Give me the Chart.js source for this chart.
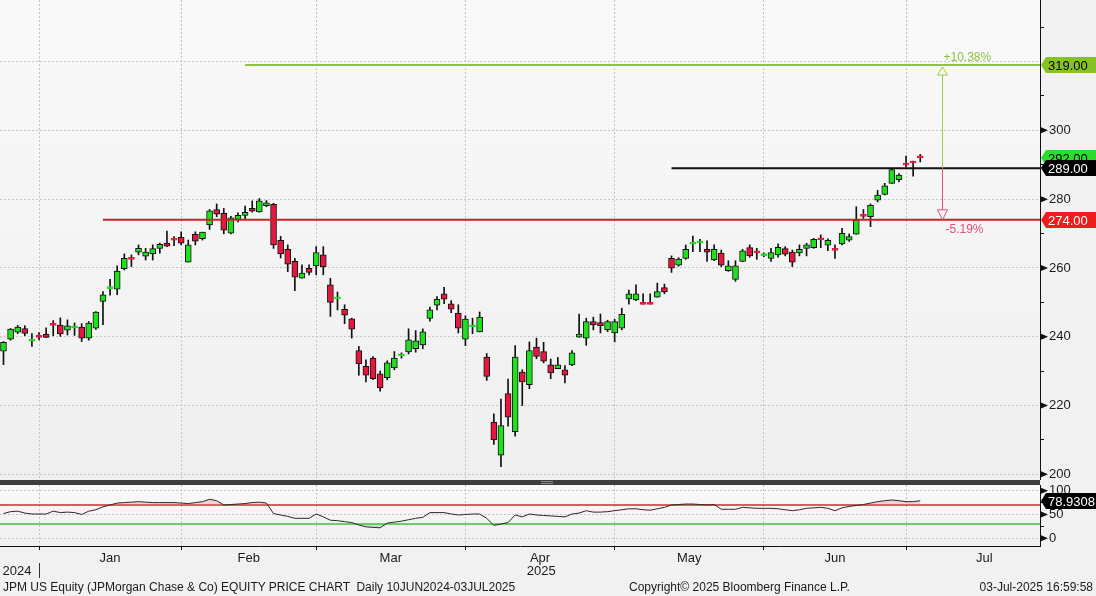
<!DOCTYPE html>
<html>
<head>
<meta charset="utf-8">
<title>JPM US Equity - Price Chart</title>
<script src="https://cdn.jsdelivr.net/npm/chart.js@4.4.1/dist/chart.umd.min.js"></script>
<style>
  html, body { margin: 0; padding: 0; }
  body { width: 1096px; height: 596px; position: relative; overflow: hidden; background: #f1f1f1;
         font-family: "Liberation Sans", Arial, sans-serif; }
  #priceCanvas { position: absolute; left: 0; top: 0; }
  #rsiCanvas { position: absolute; left: 0; top: 485px; }
  #divider { position: absolute; left: 0; top: 480px; width: 1040px; height: 5px; background: #3d3d3d; }
  #grip { position: absolute; left: 541px; top: 481px; width: 12px; height: 1px;
          border-top: 1px solid #8a8a8a; border-bottom: 1px solid #8a8a8a; }
  .foot { position: absolute; top: 580px; font-size: 12px; line-height: 14px; color: #1a1a1a; white-space: pre; }
</style>
</head>
<body>
<canvas id="priceCanvas" width="1096" height="480"></canvas>
<div id="divider"></div><div id="grip"></div>
<canvas id="rsiCanvas" width="1096" height="96"></canvas>
<div class="foot" style="left:3px">JPM US Equity (JPMorgan Chase &amp; Co) EQUITY PRICE CHART  Daily 10JUN2024-03JUL2025</div>
<div class="foot" style="left:629px">Copyright© 2025 Bloomberg Finance L.P.</div>
<div class="foot" style="right:3px">03-Jul-2025 16:59:58</div>
<script>
// visible window of the daily chart: 23 Dec 2024 .. 02 Jul 2025
const dates = [
  '2024-12-23','2024-12-24','2024-12-26','2024-12-27','2024-12-30','2024-12-31',
  '2025-01-02','2025-01-03','2025-01-06','2025-01-07','2025-01-08','2025-01-10','2025-01-13','2025-01-14','2025-01-15','2025-01-16',
  '2025-01-17','2025-01-21','2025-01-22','2025-01-23','2025-01-24','2025-01-27','2025-01-28','2025-01-29','2025-01-30','2025-01-31',
  '2025-02-03','2025-02-04','2025-02-05','2025-02-06','2025-02-07','2025-02-10','2025-02-11','2025-02-12','2025-02-13','2025-02-14',
  '2025-02-18','2025-02-19','2025-02-20','2025-02-21','2025-02-24','2025-02-25','2025-02-26','2025-02-27','2025-02-28',
  '2025-03-03','2025-03-04','2025-03-05','2025-03-06','2025-03-07','2025-03-10','2025-03-11','2025-03-12','2025-03-13','2025-03-14',
  '2025-03-17','2025-03-18','2025-03-19','2025-03-20','2025-03-21','2025-03-24','2025-03-25','2025-03-26','2025-03-27','2025-03-28','2025-03-31',
  '2025-04-01','2025-04-02','2025-04-03','2025-04-04','2025-04-07','2025-04-08','2025-04-09','2025-04-10','2025-04-11','2025-04-14',
  '2025-04-15','2025-04-16','2025-04-17','2025-04-21','2025-04-22','2025-04-23','2025-04-24','2025-04-25','2025-04-28','2025-04-29','2025-04-30',
  '2025-05-01','2025-05-02','2025-05-05','2025-05-06','2025-05-07','2025-05-08','2025-05-09','2025-05-12','2025-05-13','2025-05-14',
  '2025-05-15','2025-05-16','2025-05-19','2025-05-20','2025-05-21','2025-05-22','2025-05-23','2025-05-27','2025-05-28','2025-05-29','2025-05-30',
  '2025-06-02','2025-06-03','2025-06-04','2025-06-05','2025-06-06','2025-06-09','2025-06-10','2025-06-11','2025-06-12','2025-06-13',
  '2025-06-16','2025-06-17','2025-06-18','2025-06-20','2025-06-23','2025-06-24','2025-06-25','2025-06-26','2025-06-27','2025-06-30',
  '2025-07-01','2025-07-02'
];

const openPx = [
  235.8,239.3,241.3,242.4,238.7,240.0,240.8,243.5,243.4,241.9,
  242.6,242.8,239.6,242.5,250.3,254.0,253.8,259.8,262.7,264.6,
  263.4,264.1,265.7,267.2,268.3,268.9,261.7,269.8,268.5,272.5,
  277.0,275.9,270.1,274.1,275.3,277.3,276.3,278.1,278.5,268.0,
  265.4,261.9,257.0,259.9,260.6,263.8,255.1,251.0,248.0,245.2,
  236.0,231.4,233.8,229.2,228.1,230.9,234.4,235.6,236.5,237.6,
  245.3,249.2,252.5,249.6,246.9,239.3,242.9,241.4,234.1,215.2,
  205.6,223.5,212.4,229.7,226.1,237.0,235.7,231.8,230.7,230.4,
  231.8,239.9,239.6,244.4,244.1,242.0,241.1,242.5,251.0,250.7,
  249.6,249.6,251.5,254.3,262.8,260.8,262.8,266.9,267.3,265.4,
  262.3,264.3,259.2,256.7,261.9,265.9,264.6,263.6,262.8,263.8,
  265.6,264.6,264.4,265.7,265.9,268.4,266.6,265.3,267.0,268.1,
  269.8,275.2,274.9,279.7,281.4,284.6,285.7,290.1,290.7,292.2
];
const highPx = [
  238.6,242.4,243.3,243.2,240.9,241.2,242.6,244.7,245.5,244.9,
  244.0,243.8,244.4,247.3,253.1,256.7,260.6,264.1,263.8,266.7,
  265.7,266.7,267.2,270.7,269.1,270.5,268.1,270.5,270.4,277.0,
  278.6,277.3,275.0,276.0,278.0,279.5,280.2,279.6,278.8,269.2,
  266.7,262.8,260.9,260.9,266.2,266.2,257.0,253.0,249.3,245.4,
  237.2,233.3,234.2,230.0,233.0,235.7,235.3,242.3,241.8,242.3,
  248.6,251.7,254.4,250.5,249.3,246.1,245.4,247.2,235.1,217.6,
  221.9,227.7,237.4,230.4,238.5,239.6,238.4,233.5,234.0,231.6,
  236.0,246.6,245.4,245.7,246.6,244.8,245.1,248.3,253.6,255.1,
  252.5,252.5,255.6,255.3,263.5,263.0,266.7,269.3,268.3,267.9,
  266.7,265.2,262.1,262.1,265.4,266.7,265.7,264.4,265.7,267.0,
  266.2,265.2,266.7,267.2,268.6,269.6,268.5,266.7,271.5,269.9,
  277.8,277.0,278.6,282.6,284.6,288.9,287.4,292.5,291.1,293.0
];
const lowPx = [
  231.9,239.0,240.9,240.3,237.2,239.1,239.7,240.3,240.1,240.5,
  240.4,238.6,239.0,242.1,243.5,252.1,252.2,259.4,260.4,263.8,
  262.3,262.3,264.3,266.2,266.5,266.7,261.7,266.7,268.1,271.2,
  274.9,269.9,269.9,273.4,274.2,276.2,276.2,277.8,265.7,262.9,
  258.9,253.4,257.0,258.0,258.0,258.0,245.9,247.8,243.8,239.6,
  228.8,226.9,227.5,224.2,227.5,230.4,233.8,235.0,235.5,236.5,
  244.5,247.8,249.6,247.0,241.1,237.4,240.9,241.4,227.3,208.7,
  202.2,214.0,211.1,220.0,224.9,233.6,232.4,227.8,230.7,226.6,
  231.6,239.8,237.5,242.0,241.1,241.5,238.5,242.0,249.5,250.5,
  249.5,249.5,251.5,252.5,258.7,260.5,262.5,264.7,264.7,261.9,
  262.1,260.4,259.0,256.1,261.8,263.1,262.5,263.3,261.9,263.1,
  263.5,260.4,263.5,263.5,265.7,265.9,265.0,262.8,266.7,267.7,
  269.8,274.4,272.0,279.2,281.2,284.6,285.0,289.4,286.7,290.8
];
const closePx = [
  238.4,242.2,242.8,241.0,238.9,239.8,239.8,243.3,240.8,243.2,
  242.8,239.6,244.0,247.2,252.2,254.2,259.1,262.8,262.5,265.7,
  264.6,265.6,266.9,266.3,268.1,267.2,266.7,267.8,270.4,276.6,
  275.6,271.0,274.6,275.3,276.2,276.5,279.5,278.9,266.7,264.1,
  261.1,257.3,258.5,258.7,264.5,260.4,250.0,251.2,246.3,242.2,
  232.2,228.8,227.8,225.1,232.4,233.8,234.6,239.1,238.8,241.4,
  247.8,250.9,250.9,248.0,242.5,245.1,243.1,245.7,228.5,210.0,
  214.2,216.6,234.1,226.9,236.0,234.3,232.9,229.5,231.8,228.8,
  235.3,240.8,244.4,243.4,243.2,244.4,244.4,246.5,252.5,252.5,
  249.4,249.4,253.1,253.0,259.9,262.6,265.4,267.1,267.5,264.6,
  265.4,260.8,260.6,260.6,265.0,263.5,264.4,263.8,264.5,266.0,
  264.0,261.7,265.4,266.7,268.3,268.2,268.0,265.1,270.1,269.1,
  273.9,275.0,278.2,281.2,283.9,288.6,287.0,289.9,290.5,292.0
];

// RSI(14)
const rsi14 = [
  52,56,57,53,51,51,51,57,54,55,
  54,50,57,60,66,70,74,75,76,77,
  76,75,75,75,75,74,73,75,77,82,
  79,70,71,72,73,75,76,74,52,49,
  46,42,42,42,51,45,38,37,35,33,
  28,24,23,22,32,34,36,39,42,44,
  54,54,54,51,49,50,51,51,42,27,
  30,33,49,45,51,49,48,47,46,45,
  51,53,58,55,55,56,58,60,62,62,
  60,59,62,65,70,71,72,72,71,70,
  71,61,61,61,65,64,63,63,63,62,
  60,58,60,63,64,65,63,58,64,67,
  69,71,74,77,79,80.5,79,77,77,78.9308
];

const monthNames = ['Jan', 'Feb', 'Mar', 'Apr', 'May', 'Jun', 'Jul'];
const priceTicks = [200, 210, 220, 230, 240, 250, 260, 270, 280, 290, 300, 310, 320, 330];
const priceLabels = [200, 220, 240, 260, 280, 300];
const rsiTicks = [0, 25, 50, 75, 100];
const rsiLabels = [0, 50, 100];

// drawn levels (price) and the day each line starts on
const upTarget = 319, pivotLevel = 289, supportLevel = 274;
const upTargetFrom = '2025-02-13', pivotFrom = '2025-05-12', supportFrom = '2025-01-15';
const rsiOverbought = 70, rsiOversold = 30;

// x axis runs in trading-day slots; the terminal leaves ~16 empty slots on the right
const X_MIN = -0.49, X_MAX = 145.85;
const ARROW_SLOT = 132;

const GREEN = '#1fdf1f', RED = '#e5173f';
const FONT = '"Liberation Sans", Arial, sans-serif';

Chart.defaults.font.family = FONT;
Chart.defaults.font.size = 13;
Chart.defaults.color = '#1a1a1a';
Chart.defaults.animation = false;

const monthEnds = [];
for (let i = 0; i < dates.length - 1; i++) {
  if (dates[i].slice(0, 7) !== dates[i + 1].slice(0, 7)) monthEnds.push(i);
}
// label sits mid-month; the last (running) month gets half a typical month
const monthMids = monthEnds.map((e, k) => k + 1 < monthEnds.length ? (e + monthEnds[k + 1]) / 2 : e + 11);
const labelAt = new Map(monthMids.map((v, k) => [v, monthNames[k]]));
const bottomTicks = [...monthEnds, ...monthMids].sort((a, b) => a - b);
const isMonthEnd = (c) => c.tick && monthEnds.includes(c.tick.value);

const isDoji = (i) => Math.abs(closePx[i] - openPx[i]) < 0.5;
const bodyFill = dates.map((d, i) => closePx[i] >= openPx[i] ? GREEN : RED);
const bodyEdge = dates.map((d, i) => isDoji(i) ? bodyFill[i] : '#111');

const lastClose = closePx[closePx.length - 1];
const lastRsi = rsi14[rsi14.length - 1];

// ---- plugins ----
const plotBackground = {
  id: 'plotBackground',
  beforeDraw(chart) {
    const { ctx, chartArea: a } = chart;
    const g = ctx.createLinearGradient(0, a.top, 0, a.bottom);
    g.addColorStop(0, '#f9f9f9');
    g.addColorStop(1, '#efefef');
    ctx.save();
    ctx.fillStyle = g;
    ctx.fillRect(a.left, a.top, a.right - a.left, a.bottom - a.top);
    ctx.restore();
  }
};

const tickArrows = {
  id: 'tickArrows',
  afterDraw(chart, args, opts) {
    const { ctx, chartArea } = chart;
    const y = chart.scales.y;
    ctx.save();
    ctx.fillStyle = '#111';
    for (const v of opts.values || []) {
      const py = y.getPixelForValue(v);
      ctx.beginPath();
      ctx.moveTo(chartArea.right + 1, py - 3);
      ctx.lineTo(chartArea.right + 8, py);
      ctx.lineTo(chartArea.right + 1, py + 3);
      ctx.closePath();
      ctx.fill();
    }
    ctx.restore();
  }
};

const valueTags = {
  id: 'valueTags',
  afterDraw(chart, args, opts) {
    const { ctx, chartArea } = chart;
    const y = chart.scales.y;
    ctx.save();
    ctx.font = '13px ' + FONT;
    ctx.textBaseline = 'middle';
    for (const t of opts.items || []) {
      const py = Math.round(y.getPixelForValue(t.value));
      const x0 = chartArea.right + 1, x1 = x0 + 5, x2 = chart.width;
      ctx.fillStyle = t.bg;
      ctx.beginPath();
      ctx.moveTo(x0, py);
      ctx.lineTo(x1, py - 8);
      ctx.lineTo(x2, py - 8);
      ctx.lineTo(x2, py + 8);
      ctx.lineTo(x1, py + 8);
      ctx.closePath();
      ctx.fill();
      ctx.fillStyle = t.fg;
      ctx.fillText(t.text, x1 + 2, py + 1);
    }
    ctx.restore();
  }
};

const moveArrows = {
  id: 'moveArrows',
  afterDatasetsDraw(chart, args, opts) {
    const { ctx } = chart;
    const x = chart.scales.x, y = chart.scales.y;
    const px = Math.round(x.getPixelForValue(opts.slot)) + 0.5;
    const pFrom = y.getPixelForValue(opts.from);
    const pUp = y.getPixelForValue(opts.up);
    const pDown = y.getPixelForValue(opts.down);
    const upPct = (opts.up - opts.from) / opts.from * 100;
    const downPct = (opts.down - opts.from) / opts.from * 100;
    ctx.save();
    ctx.lineWidth = 1;
    // up leg
    ctx.strokeStyle = '#9ccb4a';
    ctx.beginPath();
    ctx.moveTo(px, pFrom);
    ctx.lineTo(px, pUp + 10);
    ctx.moveTo(px, pUp + 2);
    ctx.lineTo(px - 5, pUp + 10);
    ctx.lineTo(px + 5, pUp + 10);
    ctx.closePath();
    ctx.stroke();
    // down leg
    ctx.strokeStyle = '#e0507a';
    ctx.beginPath();
    ctx.moveTo(px, pFrom);
    ctx.lineTo(px, pDown - 10);
    ctx.moveTo(px, pDown);
    ctx.lineTo(px - 5, pDown - 10);
    ctx.lineTo(px + 5, pDown - 10);
    ctx.closePath();
    ctx.stroke();
    ctx.font = '12px ' + FONT;
    ctx.textBaseline = 'middle';
    ctx.fillStyle = '#8fc440';
    ctx.fillText('+' + upPct.toFixed(2) + '%', px + 1, pUp - 7);
    ctx.fillStyle = '#e0507a';
    ctx.fillText(downPct.toFixed(2) + '%', px + 3, pDown + 10);
    ctx.restore();
  }
};

const yearRow = {
  id: 'yearRow',
  afterDraw(chart) {
    const { ctx } = chart;
    const x = chart.scales.x;
    const cut = Math.round(x.getPixelForValue(monthEnds[0])) + 0.5;
    const row = 86;
    ctx.save();
    ctx.strokeStyle = '#333';
    ctx.lineWidth = 1;
    ctx.beginPath();
    ctx.moveTo(cut, row - 8);
    ctx.lineTo(cut, row + 7);
    ctx.stroke();
    ctx.font = '13px ' + FONT;
    ctx.fillStyle = '#1a1a1a';
    ctx.textBaseline = 'middle';
    ctx.textAlign = 'right';
    ctx.fillText(dates[0].slice(0, 4), cut - 8, row);
    ctx.textAlign = 'center';
    const mid = x.getPixelForValue((monthEnds[0] + 0.5 + X_MAX) / 2);
    ctx.fillText(dates[dates.length - 1].slice(0, 4), mid, row);
    ctx.restore();
  }
};

// ---- price panel ----
const levelLine = (from, value, color) => ({
  type: 'line',
  data: [{ x: dates.indexOf(from), y: value }, { x: X_MAX, y: value }],
  borderColor: color,
  borderWidth: 2,
  pointRadius: 0,
  order: 0
});

new Chart(document.getElementById('priceCanvas'), {
  type: 'bar',
  data: {
    datasets: [
      {
        label: 'wick',
        data: dates.map((d, i) => ({ x: i, y: [lowPx[i], highPx[i]] })),
        backgroundColor: '#111',
        borderWidth: 0,
        barThickness: 1,
        grouped: false,
        order: 3
      },
      {
        label: 'body',
        data: dates.map((d, i) => ({ x: i, y: [openPx[i], closePx[i]] })),
        backgroundColor: bodyFill,
        borderColor: bodyEdge,
        borderWidth: 1,
        borderSkipped: false,
        barThickness: 6,
        minBarLength: 2,
        grouped: false,
        order: 2
      },
      levelLine(supportFrom, supportLevel, '#cc2229'),
      levelLine(upTargetFrom, upTarget, '#8dc43a'),
      levelLine(pivotFrom, pivotLevel, '#111')
    ]
  },
  options: {
    responsive: false,
    devicePixelRatio: 1,
    layout: { padding: 0 },
    plugins: {
      legend: { display: false },
      tooltip: { enabled: false },
      tickArrows: { values: priceLabels },
      valueTags: {
        items: [
          { value: upTarget, text: upTarget.toFixed(2), bg: '#86c221', fg: '#000' },
          { value: lastClose, text: lastClose.toFixed(2), bg: '#2ddd2d', fg: '#000' },
          { value: pivotLevel, text: pivotLevel.toFixed(2), bg: '#000', fg: '#fff' },
          { value: supportLevel, text: supportLevel.toFixed(2), bg: '#ee1c1c', fg: '#fff' }
        ]
      },
      moveArrows: { slot: ARROW_SLOT, from: pivotLevel, up: upTarget, down: supportLevel }
    },
    scales: {
      x: {
        type: 'linear',
        min: X_MIN,
        max: X_MAX,
        offset: false,
        afterBuildTicks: s => { s.ticks = monthEnds.map(v => ({ value: v })); },
        afterFit: s => { s.height = 0; s.paddingLeft = 0; s.paddingRight = 0; },
        ticks: { display: false },
        grid: { color: '#c4c4c4', drawTicks: false, offset: false },
        border: { display: true, color: 'rgba(0,0,0,0)', dash: [2, 2] }
      },
      y: {
        position: 'right',
        min: 198.35,
        max: 337.9,
        beginAtZero: false,
        afterBuildTicks: s => { s.ticks = priceTicks.map(v => ({ value: v })); },
        afterFit: s => { s.width = 56; s.paddingTop = 0; s.paddingBottom = 0; },
        ticks: {
          autoSkip: false,
          padding: 5,
          callback: v => priceLabels.includes(v) ? String(v) : ''
        },
        grid: {
          offset: false,
          tickLength: 4,
          color: c => c.tick && c.tick.value % 20 === 0 ? '#c4c4c4' : 'transparent',
          tickColor: c => c.tick && c.tick.value % 20 !== 0 ? '#111' : 'transparent'
        },
        border: { color: '#111', width: 1, dash: [2, 2] }
      }
    }
  },
  plugins: [plotBackground, tickArrows, moveArrows, valueTags]
});

// ---- RSI panel ----
const rsiPoints = rsi14.map((v, i) => ({ x: i, y: v }));
const flatLine = (value, color) => ({
  data: [{ x: X_MIN, y: value }, { x: X_MAX, y: value }],
  borderColor: color,
  borderWidth: 1.5,
  pointRadius: 0,
  order: 1
});

new Chart(document.getElementById('rsiCanvas'), {
  type: 'line',
  data: {
    datasets: [
      {
        label: 'RSI',
        data: rsiPoints,
        borderColor: '#2a2a2a',
        borderWidth: 1,
        pointRadius: 0,
        tension: 0,
        fill: { target: { value: rsiOverbought }, above: 'rgba(238,120,120,0.30)', below: 'rgba(0,0,0,0)' },
        order: 0
      },
      {
        label: 'oversold fill',
        data: rsiPoints,
        borderWidth: 0,
        pointRadius: 0,
        fill: { target: { value: rsiOversold }, above: 'rgba(0,0,0,0)', below: 'rgba(90,200,90,0.30)' },
        order: 2
      },
      flatLine(rsiOverbought, '#cf2a2a'),
      flatLine(rsiOversold, '#3cbf3c')
    ]
  },
  options: {
    responsive: false,
    devicePixelRatio: 1,
    layout: { padding: 0 },
    plugins: {
      legend: { display: false },
      tooltip: { enabled: false },
      tickArrows: { values: rsiLabels },
      valueTags: { items: [{ value: lastRsi, text: lastRsi.toFixed(4), bg: '#000', fg: '#fff' }] }
    },
    scales: {
      x: {
        type: 'linear',
        min: X_MIN,
        max: X_MAX,
        offset: false,
        afterBuildTicks: s => { s.ticks = bottomTicks.map(v => ({ value: v })); },
        afterFit: s => { s.height = 35; s.paddingLeft = 0; s.paddingRight = 0; },
        ticks: {
          autoSkip: false,
          maxRotation: 0,
          padding: 1,
          callback: v => labelAt.get(v) || ''
        },
        grid: {
          offset: false,
          tickLength: 4,
          color: c => isMonthEnd(c) ? '#c4c4c4' : 'transparent',
          tickColor: c => isMonthEnd(c) ? '#111' : 'transparent'
        },
        border: { color: '#111', width: 1, dash: [2, 2] }
      },
      y: {
        position: 'right',
        min: -16.2,
        max: 112,
        afterBuildTicks: s => { s.ticks = rsiTicks.map(v => ({ value: v })); },
        afterFit: s => { s.width = 56; s.paddingTop = 0; s.paddingBottom = 0; },
        ticks: {
          autoSkip: false,
          padding: 5,
          callback: v => rsiLabels.includes(v) ? String(v) : ''
        },
        grid: {
          offset: false,
          tickLength: 4,
          color: c => c.tick && rsiLabels.includes(c.tick.value) ? '#c4c4c4' : 'transparent',
          tickColor: c => c.tick && !rsiLabels.includes(c.tick.value) ? '#111' : 'transparent'
        },
        border: { color: '#111', width: 1, dash: [2, 2] }
      }
    }
  },
  plugins: [plotBackground, tickArrows, valueTags, yearRow]
});
</script>
</body>
</html>
